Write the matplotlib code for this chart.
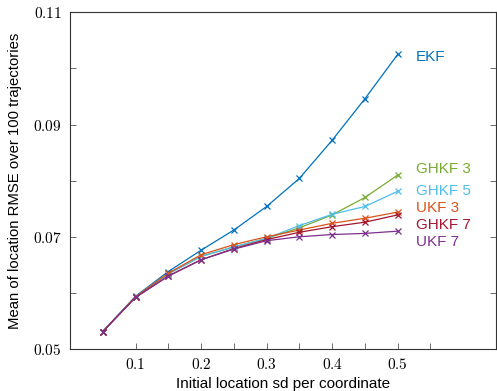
import matplotlib
matplotlib.use("Agg")
import matplotlib.pyplot as plt

plt.rcParams['mathtext.fontset'] = 'cm'

sd = [0.05, 0.1, 0.15, 0.2, 0.25, 0.3, 0.35, 0.4, 0.45, 0.5]

ekf = [0.0531, 0.0594, 0.0638, 0.0676, 0.0712, 0.0754, 0.0804, 0.0872, 0.0946, 0.1025]
ghkf3 = [0.0531, 0.0593, 0.0634, 0.0665, 0.0682, 0.0697, 0.0716, 0.0739, 0.0770, 0.0810]
ghkf5 = [0.0531, 0.0593, 0.0634, 0.0665, 0.0682, 0.0697, 0.0720, 0.0740, 0.0754, 0.0781]
ukf3 = [0.0531, 0.0593, 0.0635, 0.0668, 0.0686, 0.0700, 0.0712, 0.0724, 0.0733, 0.0744]
ghkf7 = [0.0531, 0.0592, 0.0630, 0.0659, 0.0679, 0.0695, 0.0708, 0.0718, 0.0726, 0.0739]
ukf7 = [0.0531, 0.0592, 0.0630, 0.0659, 0.0678, 0.0693, 0.0700, 0.0704, 0.0706, 0.0710]

names = ["EKF", "GHKF 3", "GHKF 5", "UKF 3", "GHKF 7", "UKF 7"]
label_y = [0.1020, 0.0820, 0.0781, 0.0751, 0.0721, 0.0691]
colors = ["#0072BD", "#77AC30", "#4DBEEE", "#D95319", "#A2142F", "#7E2F8E"]

fig = plt.figure(figsize=(4.97, 3.91), dpi=100)
ax = fig.add_axes([0.1408, 0.1074, 0.8572, 0.8611])

for ys, c in zip([ekf, ghkf3, ghkf5, ukf3, ghkf7, ukf7], colors):
    ax.plot(sd, ys, color=c, lw=0.9, marker='x', ms=5, mew=0.9)

# series names written at the end of each curve
for name, ly, c in zip(names, label_y, colors):
    ax.text(0.528, ly, name, color=c, fontsize=11, family='Liberation Sans',
            ha='left', va='center')

ax.set_xlim(0, 0.65)
ax.set_ylim(0.05, 0.11)

xt = [0.1, 0.15, 0.2, 0.25, 0.3, 0.35, 0.4, 0.45, 0.5, 0.55]
ax.set_xticks(xt)
ax.set_xticklabels(['$%g$' % v if round(v * 100) % 10 == 0 and v < 0.52 else '' for v in xt])
yt = [0.05, 0.06, 0.07, 0.08, 0.09, 0.10, 0.11]
ax.set_yticks(yt)
ax.set_yticklabels(['$%.2f$' % v if round(v * 100) % 2 == 1 else '' for v in yt])

ax.tick_params(direction='in', length=4, width=0.6, color='#555555', labelsize=11,
               right=True, pad=6)
for s in ax.spines.values():
    s.set_linewidth(0.8)
    s.set_color('#333333')

ax.set_xlabel("Initial location sd per coordinate", family='Liberation Sans', fontsize=11, labelpad=3)
ax.set_ylabel("Mean of location RMSE over 100 trajectories", family='Liberation Sans', fontsize=10.7, labelpad=8)

fig.savefig("out.png", dpi=100)
